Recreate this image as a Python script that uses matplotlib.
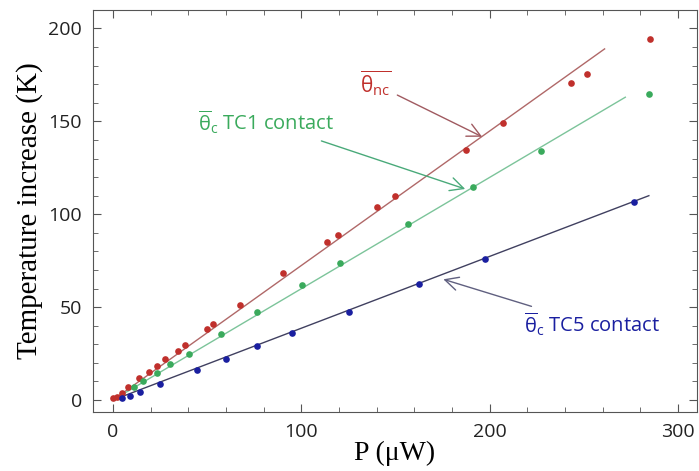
import matplotlib.pyplot as plt
import numpy as np
from matplotlib.ticker import MultipleLocator

plt.rcParams['font.family'] = ['Open Sans', 'DejaVu Sans']
plt.rcParams['mathtext.fontset'] = 'custom'
plt.rcParams['mathtext.rm'] = 'Open Sans'
plt.rcParams['mathtext.it'] = 'Open Sans'

# theta_nc (non contact)
nc_p = [0.2, 2.3, 4.6, 8.1, 14.0, 19.1, 23.5, 27.6, 34.4, 38.4, 49.8, 53.3, 67.4,
        90.4, 113.4, 119.7, 140.4, 149.8, 187.3, 207.1, 242.9, 251.7, 285.0]
nc_t = [0.9, 1.8, 3.9, 7.2, 11.7, 14.9, 18.5, 22.1, 26.2, 29.8, 38.1, 41.1, 51.2,
        68.3, 85.0, 89.0, 103.9, 110.0, 134.6, 149.0, 170.4, 175.6, 194.6]

# theta_c TC1 contact
tc1_p = [11.3, 16.1, 23.5, 30.3, 40.2, 57.5, 76.3, 100.2, 120.6, 156.8, 191.2, 227.1, 284.8]
tc1_t = [7.2, 10.4, 14.4, 19.2, 25.0, 35.8, 47.6, 62.0, 73.7, 94.9, 114.7, 134.2, 164.6]

# theta_c TC5 contact
tc5_p = [4.6, 9.0, 14.3, 25.1, 44.4, 59.8, 76.5, 95.1, 125.3, 162.5, 197.6, 276.5]
tc5_t = [0.9, 2.3, 4.5, 8.6, 16.2, 22.3, 28.9, 36.1, 47.6, 62.4, 76.0, 106.7]

# fitted lines (end points)
nc_fit_p, nc_fit_t = [0, 261], [0, 189]
tc1_fit_p, tc1_fit_t = [0, 272], [0, 163]
tc5_fit_p, tc5_fit_t = [0, 284.5], [0, 110]

red, green, blue = '#c0302c', '#3aaa5c', '#1a1fa0'

fig = plt.figure(figsize=(6.99, 4.71), dpi=100)
ax = fig.add_axes([0.133, 0.125, 0.864, 0.854])

ax.plot(nc_fit_p, nc_fit_t, color='#b06868', lw=1)
ax.plot(tc1_fit_p, tc1_fit_t, color='#7cc49a', lw=1)
ax.plot(tc5_fit_p, tc5_fit_t, color='#404060', lw=1)

ax.plot(nc_p, nc_t, 'o', color=red, ms=4.8, mec='none')
ax.plot(tc1_p, tc1_t, 'o', color=green, ms=4.8, mec='none')
ax.plot(tc5_p, tc5_t, 'o', color=blue, ms=4.8, mec='none')

ax.set_xlim(-10.6, 310)
ax.set_ylim(-6.5, 210)
ax.xaxis.set_major_locator(MultipleLocator(100))
ax.xaxis.set_minor_locator(MultipleLocator(20))
ax.yaxis.set_major_locator(MultipleLocator(50))
ax.yaxis.set_minor_locator(MultipleLocator(10))
ax.tick_params(which='both', direction='in', top=True, right=True,
               labelsize=14, colors='#555555', labelcolor='#222222', pad=8)
ax.tick_params(which='major', length=6)
ax.tick_params(which='minor', length=3.5)
for s in ax.spines.values():
    s.set_color('#555555')

ax.set_xlabel('P (\u03bcW)', family='Liberation Serif', fontsize=20, labelpad=0)
ax.set_ylabel('Temperature increase (K)', family='Liberation Serif', fontsize=21, labelpad=4)

ax.annotate(r'$\overline{\mathrm{\theta_{nc}}}$', xy=(196, 141.7), xytext=(131, 165),
            color=red, fontsize=15,
            arrowprops=dict(arrowstyle='->', color='#a05a60', lw=1, mutation_scale=24,
                            shrinkA=3, shrinkB=0))
ax.annotate(r'$\overline{\mathrm{\theta}}_{\mathrm{c}}$ TC1 contact', xy=(187, 113.6),
            xytext=(45, 145), color=green, fontsize=14.5,
            arrowprops=dict(arrowstyle='->', color='#4aaa7a', lw=1, mutation_scale=24,
                            shrinkA=5, shrinkB=0))
ax.annotate(r'$\overline{\mathrm{\theta}}_{\mathrm{c}}$ TC5 contact', xy=(175.4, 65),
            xytext=(218, 36), color=blue, fontsize=14.5,
            arrowprops=dict(arrowstyle='->', color='#606080', lw=1, mutation_scale=24,
                            shrinkA=5, shrinkB=0))

fig.savefig('out.png', dpi=100)
